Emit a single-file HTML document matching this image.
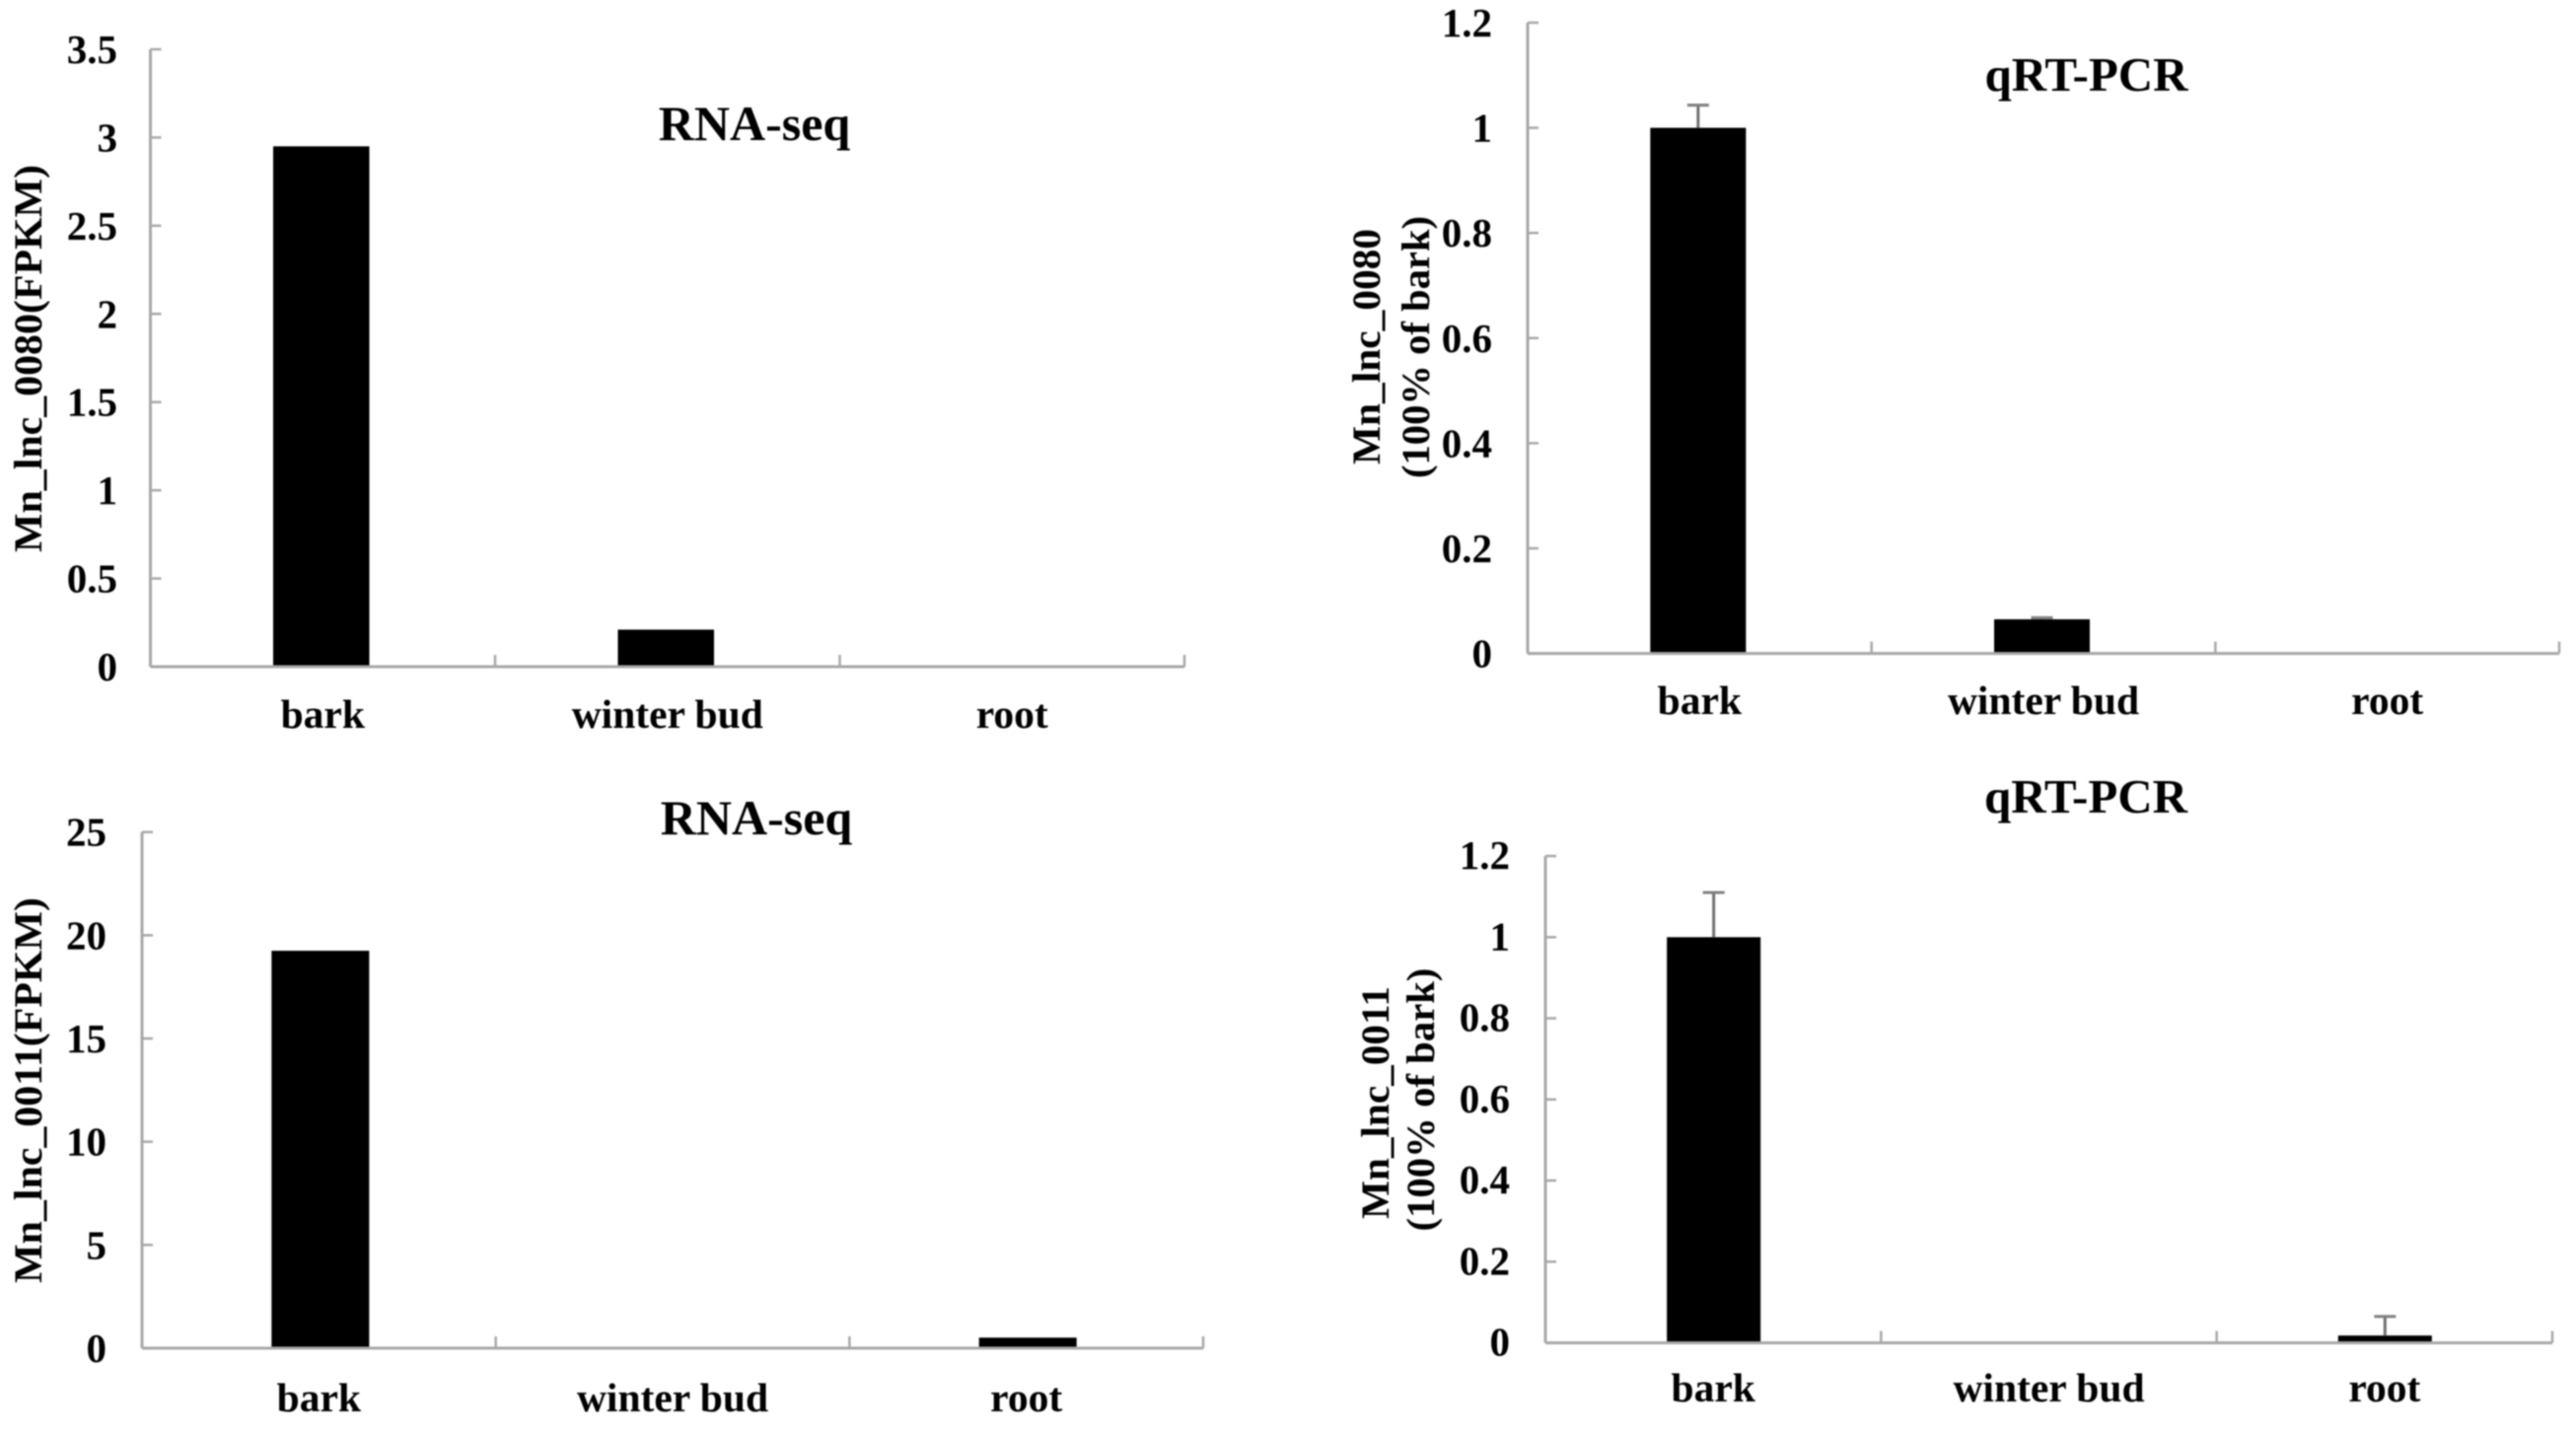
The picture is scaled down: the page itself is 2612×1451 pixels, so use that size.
<!DOCTYPE html>
<html lang="en">
<head>
<meta charset="utf-8">
<title>Mn_lnc expression: RNA-seq and qRT-PCR</title>
<style>
html,body{margin:0;padding:0;background:#fff;}
body{width:2612px;height:1451px;overflow:hidden;}
svg{display:block;filter:blur(0.8px);}
text{font-family:"Liberation Serif",serif;font-weight:bold;fill:#000;}
</style>
</head>
<body>
<svg id="figure" xmlns="http://www.w3.org/2000/svg" width="2612" height="1451" viewBox="0 0 2612 1451"></svg>
<script>
// ---- chart data ----
const categories = ['bark', 'winter bud', 'root'];

const ticksA = ['0', '0.5', '1', '1.5', '2', '2.5', '3', '3.5'];
const valuesA = [2.95, 0.21, 0];
const errorsA = [0, 0, 0];

const ticksB = ['0', '0.2', '0.4', '0.6', '0.8', '1', '1.2'];
const valuesB = [1.0, 0.065, 0];
const errorsB = [0.043, 0.003, 0];

const ticksC = ['0', '5', '10', '15', '20', '25'];
const valuesC = [19.25, 0, 0.51];
const errorsC = [0, 0, 0];

const ticksD = ['0', '0.2', '0.4', '0.6', '0.8', '1', '1.2'];
const valuesD = [1.0, 0, 0.018];
const errorsD = [0.11, 0, 0.047];

// ---- panel layout ----
const panels = [
  {id:'rna-seq-0080', ticks:ticksA, values:valuesA, errors:errorsA, left:152.5, right:1201, top:50, bottom:676,
   title:'RNA-seq', titleSize:50, titleX:765, titleY:142, labelRight:119, labelDy:14, catY:738, catShift:0, barShift:-1.5, barW:97.5,
   yTitles:[{text:'Mn_lnc_0080(FPKM)', x:42, y:363.5, len:393}]},
  {id:'qrt-pcr-0080', ticks:ticksB, values:valuesB, errors:errorsB, left:1549, right:2595, top:23, bottom:662.6,
   title:'qRT-PCR', titleSize:49, titleX:2115.5, titleY:92, labelRight:1513, labelDy:14, catY:724, catShift:0, barShift:-1.5, barW:97,
   yTitles:[{text:'Mn_lnc_0080', x:1399, y:351.5, len:239},{text:'(100% of bark)', x:1449, y:352, len:266}]},
  {id:'rna-seq-0011', ticks:ticksC, values:valuesC, errors:errorsC, left:144, right:1220, top:843.7, bottom:1367,
   title:'RNA-seq', titleSize:50, titleX:767, titleY:846, labelRight:108, labelDy:14, catY:1431, catShift:0, barShift:1.5, barW:99,
   yTitles:[{text:'Mn_lnc_0011(FPKM)', x:42, y:1105.5, len:391}]},
  {id:'qrt-pcr-0011', ticks:ticksD, values:valuesD, errors:errorsD, left:1567, right:2588, top:868, bottom:1361.6,
   title:'qRT-PCR', titleSize:49, titleX:2115, titleY:824, labelRight:1531, labelDy:13, catY:1421, catShift:0, barShift:0.5, barW:95,
   yTitles:[{text:'Mn_lnc_0011', x:1408, y:1118, len:236},{text:'(100% of bark)', x:1454, y:1115, len:267}]}
];

// ---- drawing ----
const NS = 'http://www.w3.org/2000/svg';
const AXIS_COLOR = '#a8a8a8';

function make(parent, tag, attrs, content) {
  const node = document.createElementNS(NS, tag);
  for (const key in attrs) node.setAttribute(key, attrs[key]);
  if (content !== undefined) node.textContent = content;
  parent.appendChild(node);
  return node;
}

function slug(s) {
  return s.replace(/\s+/g, '-');
}

function drawPanel(svg, p) {
  const group = make(svg, 'g', {});
  
  

  const maxTick = parseFloat(p.ticks[p.ticks.length - 1]);
  const yScale = v => p.bottom - (v / maxTick) * (p.bottom - p.top);
  const catWidth = (p.right - p.left) / categories.length;
  const xEdge = i => p.left + i * catWidth;
  const xCenter = i => p.left + (i + 0.5) * catWidth;

  const title = make(group, 'text', {x:p.titleX, y:p.titleY, 'text-anchor':'middle', 'font-size':p.titleSize}, p.title);
  
  

  p.yTitles.forEach(t => {
    const yt = make(group, 'text', {
      transform:'translate(' + t.x + ',' + t.y + ') rotate(-90)',
      'text-anchor':'middle', 'font-size':40, textLength:t.len, lengthAdjust:'spacingAndGlyphs'
    }, t.text);
    
    
  });

  p.values.forEach((v, i) => {
    const barTop = yScale(v);
    const barX = xCenter(i) + p.barShift;
    const bar = make(group, 'rect', {
      x:barX - p.barW / 2, y:barTop, width:p.barW, height:p.bottom - barTop, fill:'#000'
    });
    
    

    if (p.errors[i] > 0) {
      const errTop = yScale(v + p.errors[i]);
      const stem = make(group, 'line', {
        x1:barX, x2:barX, y1:barTop, y2:errTop, stroke:'#707070', 'stroke-width':3
      });
      
      
      const cap = make(group, 'line', {
        x1:barX - 11, x2:barX + 11, y1:errTop, y2:errTop, stroke:'#808080', 'stroke-width':3
      });
      
      
    }
  });

  const yAxis = make(group, 'line', {x1:p.left, x2:p.left, y1:p.top, y2:p.bottom, stroke:AXIS_COLOR, 'stroke-width':3});
  
  

  const xAxis = make(group, 'line', {x1:p.left, x2:p.right, y1:p.bottom, y2:p.bottom, stroke:AXIS_COLOR, 'stroke-width':3});
  
  

  p.ticks.forEach(label => {
    const y = yScale(parseFloat(label));
    const tick = make(group, 'line', {x1:p.left, x2:p.left + 11, y1:y, y2:y, stroke:AXIS_COLOR, 'stroke-width':2.5});
    
    
    const tickLabel = make(group, 'text', {x:p.labelRight, y:y + p.labelDy, 'text-anchor':'end', 'font-size':41}, label);
    
    
  });

  categories.forEach((name, i) => {
    const catLabel = make(group, 'text', {x:xCenter(i) + p.catShift, y:p.catY, 'text-anchor':'middle', 'font-size':41.5}, name);
    
    
  });
  for (let i = 1; i <= categories.length; i++) {
    const xt = make(group, 'line', {x1:xEdge(i), x2:xEdge(i), y1:p.bottom, y2:p.bottom - 12, stroke:AXIS_COLOR, 'stroke-width':2.5});
    
    
  }
}

const svgRoot = document.getElementById('figure');
panels.forEach(p => drawPanel(svgRoot, p));
</script>
</body>
</html>
